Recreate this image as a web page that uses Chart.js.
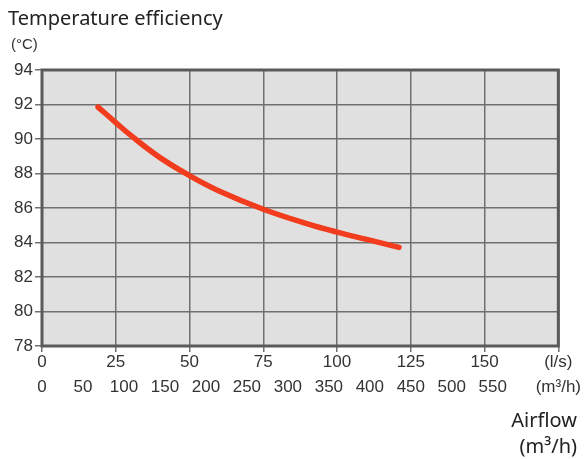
<!DOCTYPE html>
<html>
<head>
<meta charset="utf-8">
<script src="https://cdn.jsdelivr.net/npm/chart.js@4.4.0/dist/chart.umd.min.js"></script>
<style>
  body { margin: 0; background: #fff; }
  #wrap { position: relative; width: 584px; height: 459px; }
  .lbl { position: absolute; color: #222; font-family: "Noto Sans", sans-serif; white-space: nowrap; }
</style>
</head>
<body>
<div id="wrap">
  <canvas id="eff" width="584" height="459"></canvas>
  <div class="lbl" style="left:8px; top:4px; font-size:20px;">Temperature efficiency</div>
  <div class="lbl" style="left:11px; top:35px; font-size:15px; font-family:'Liberation Sans',sans-serif; color:#333;">(°C)</div>
  <div class="lbl" style="right:7px; top:406px; font-size:20px; text-align:right;">Airflow</div>
  <div class="lbl" style="right:7px; top:432px; font-size:20px; text-align:right;">(m³/h)</div>
</div>
<script>
// airflow in l/s and efficiency in degrees
var airflowLs = [19, 25, 30, 40, 50, 60, 75, 90, 100, 110, 121];
var efficiency = [91.85, 90.95, 90.22, 88.92, 87.88, 86.99, 85.93, 85.08, 84.6, 84.18, 83.72];

var lsTicks = [0, 25, 50, 75, 100, 125, 150, 175];
var m3hTicks = [0, 50, 100, 150, 200, 250, 300, 350, 400, 450, 500, 550, 630];
var yTicks = [78, 80, 82, 84, 86, 88, 90, 92, 94];

var tickFont = { family: 'Liberation Sans', size: 17 };

// grey plot background and the dark frame
var plotFrame = {
  id: 'plotFrame',
  beforeDraw: function(chart) {
    var a = chart.chartArea, ctx = chart.ctx;
    ctx.save();
    ctx.fillStyle = '#e0e0e0';
    ctx.fillRect(a.left, a.top, a.right - a.left, a.bottom - a.top);
    ctx.restore();
  },
  beforeDatasetsDraw: function(chart) {
    var a = chart.chartArea, ctx = chart.ctx;
    ctx.save();
    ctx.strokeStyle = '#5a5a5a';
    ctx.lineWidth = 3;
    ctx.strokeRect(a.left, a.top, a.right - a.left, a.bottom - a.top);
    ctx.restore();
  }
};

var points = airflowLs.map(function(v, i) { return { x: v, y: efficiency[i] }; });

new Chart(document.getElementById('eff').getContext('2d'), {
  type: 'line',
  data: {
    datasets: [{
      data: points,
      borderColor: '#f23c1e',
      borderWidth: 5.5,
      borderCapStyle: 'round',
      pointRadius: 0,
      tension: 0.4,
      xAxisID: 'x',
      yAxisID: 'y'
    }]
  },
  options: {
    responsive: false,
    animation: false,
    layout: { padding: { top: 70, right: 24, bottom: 59, left: 0 } },
    plugins: { legend: { display: false }, tooltip: { enabled: false } },
    scales: {
      x: {
        type: 'linear',
        position: 'bottom',
        min: 0,
        max: 175,
        afterBuildTicks: function(axis) { axis.ticks = lsTicks.map(function(v) { return { value: v }; }); },
        afterFit: function(axis) { axis.height = 28; },
        grid: { color: '#707070', lineWidth: 1.5, drawTicks: true, tickLength: 6 },
        border: { display: false },
        ticks: {
          font: tickFont, color: '#333', padding: 0, maxRotation: 0, autoSkip: false,
          callback: function(v) { return v === 175 ? '(l/s)' : v; }
        }
      },
      x2: {
        type: 'linear',
        position: 'bottom',
        min: 0,
        max: 630,
        afterBuildTicks: function(axis) { axis.ticks = m3hTicks.map(function(v) { return { value: v }; }); },
        afterFit: function(axis) { axis.height = 26; },
        grid: { display: false, drawTicks: false },
        border: { display: false },
        ticks: {
          font: tickFont, color: '#333', padding: 3, maxRotation: 0, autoSkip: false,
          callback: function(v) { return v === 630 ? '(m³/h)' : v; }
        }
      },
      y: {
        type: 'linear',
        min: 78,
        max: 94,
        afterBuildTicks: function(axis) { axis.ticks = yTicks.map(function(v) { return { value: v }; }); },
        afterFit: function(axis) { axis.width = 42; },
        grid: { color: '#707070', lineWidth: 1.5, drawTicks: true, tickLength: 7 },
        border: { display: false },
        ticks: { font: tickFont, color: '#333', padding: 2 }
      }
    }
  },
  plugins: [plotFrame]
});
</script>
</body>
</html>
